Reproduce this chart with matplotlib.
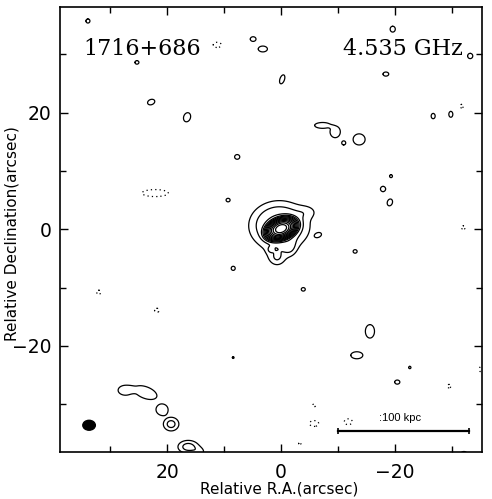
import numpy as np
import matplotlib
matplotlib.use("Agg")
from matplotlib import pyplot as plt
from matplotlib.patches import Ellipse

# ---- data (arcsec, RA offset positive to the east/left) ----
# single-contour positive blobs: centre, half-size of contour, position angle
blob_x  = [33.9, 25.3, 22.8, 16.5, 7.7, 9.3, 4.9, 3.2, -0.2, -19.6, -18.4, -33.2,
           -26.7, -29.8, -7.3, -9.5, -11.0, -13.7, -19.3, -17.9, -19.1, -6.5,
           -13.0, 8.4, -3.9, -15.6, -13.3, -22.6, -20.4, 8.4, 27.3, 23.8, 20.9, -32.1]
blob_y  = [35.7, 28.6, 21.8, 19.2, 12.4, 5.0, 32.6, 30.9, 25.7, 34.3, 26.6, 29.7,
           19.4, 19.7, 17.8, 16.7, 14.8, 15.4, 9.1, 6.9, 4.6, -1.0,
           -3.8, -6.7, -10.3, -17.5, -21.6, -23.7, -26.2, -22.0, -27.6, -28.0, -30.9, -38.6]
blob_rx = [0.35, 0.35, 0.65, 0.6, 0.45, 0.35, 0.5, 0.8, 0.4, 0.45, 0.5, 0.45,
           0.35, 0.35, 1.4, 0.9, 0.35, 1.05, 0.25, 0.45, 0.45, 0.55,
           0.35, 0.35, 0.35, 0.8, 1.05, 0.2, 0.45, 0.15, 1.3, 2.1, 1.05, 0.6]
blob_ry = [0.35, 0.3, 0.45, 0.8, 0.4, 0.3, 0.4, 0.5, 0.8, 0.5, 0.35, 0.45,
           0.45, 0.5, 0.5, 1.0, 0.35, 0.95, 0.25, 0.45, 0.6, 0.35,
           0.3, 0.35, 0.3, 1.15, 0.6, 0.2, 0.35, 0.15, 0.85, 1.0, 0.95, 0.5]
blob_pa = [0, 0, -20, 20, 0, 0, 0, 0, 20, 0, 0, 0,
           0, 0, 0, 0, 0, 0, 0, 0, 20, -20,
           0, 0, 0, 0, 0, 0, 0, 0, 0, 20, 0, 0]

# negative (dotted) blobs
neg_x  = [11.2, 22.1, -31.7, -32.0, 32.0, 21.8, -29.5, -35.2, -5.8, -5.8, -11.8, -3.3]
neg_y  = [31.6, 6.2, 21.1, 0.3, -10.8, -13.9, -26.9, -24.0, -30.2, -33.3, -33.0, -36.7]
neg_rx = [0.7, 2.3, 0.3, 0.35, 0.35, 0.4, 0.3, 0.4, 0.25, 0.8, 0.7, 0.2]
neg_ry = [0.45, 0.6, 0.3, 0.3, 0.35, 0.35, 0.3, 0.5, 0.25, 0.5, 0.5, 0.2]

# brighter components: core, extended emission and the southern knots
comp_x   = [0.0, 0.3, 0.8, 0.7, -1.5, -4.6, 1.9, 19.3, 16.3, 14.3]
comp_y   = [0.1, 0.6, -4.5, -5.0, -3.0, 3.0, -3.5, -33.4, -37.3, -38.2]
comp_amp = [8000, 5.0, 0.7, 1.2, 1.6, 0.9, 1.0, 2.52, 2.6, 1.2]
comp_sx  = [0.86, 3.0, 1.6, 0.9, 0.8, 1.3, 0.4, 1.0, 1.3, 0.8]
comp_sy  = [0.55, 2.4, 1.2, 0.9, 1.0, 0.8, 0.4, 0.86, 0.8, 0.6]
comp_pa  = [-20, 0, 0, 0, 0, 0, 0, 0, 0, 0]

levels = [-1, 1, 2, 4, 8, 16, 32, 64, 128, 256, 512, 1024, 2048, 4096]

beam_x, beam_y, beam_w, beam_h = 33.7, -33.6, 2.2, 1.7
bar_x0, bar_x1, bar_y = -10.0, -33.0, -34.5

# ---- build the map ----
gx = np.arange(-37, 41, 0.05)
gy = np.arange(-41, 41, 0.05)
X, Y = np.meshgrid(gx, gy)
Z = np.zeros_like(X)


def rho2(x0, y0, sx, sy, pa):
    t = np.deg2rad(pa)
    dx, dy = X - x0, Y - y0
    u = dx * np.cos(t) + dy * np.sin(t)
    v = -dx * np.sin(t) + dy * np.cos(t)
    return (u / sx) ** 2 + (v / sy) ** 2


# compact blobs: flat-topped profile whose level-1 contour sits at (rx, ry)
a_blob = 1.5
for i in range(len(blob_x)):
    r2 = rho2(blob_x[i], blob_y[i], blob_rx[i], blob_ry[i], blob_pa[i])
    Z += a_blob ** (1 - np.minimum(r2, 20) ** 2)
for i in range(len(neg_x)):
    r2 = rho2(neg_x[i], neg_y[i], neg_rx[i], neg_ry[i], 0)
    Z -= a_blob ** (1 - np.minimum(r2, 20) ** 2)
for i in range(len(comp_x)):
    r2 = rho2(comp_x[i], comp_y[i], comp_sx[i], comp_sy[i], comp_pa[i])
    Z += comp_amp[i] * np.exp(-0.5 * r2)

# ---- plot ----
fig = plt.figure(figsize=(4.92, 4.99), dpi=100)
ax = fig.add_axes([0.122, 0.094, 0.858, 0.892])

styles = [(0, (1, 2.5)) if l < 0 else 'solid' for l in levels]
ax.contour(X, Y, Z, levels=levels, colors='k', linewidths=0.9, linestyles=styles)

ax.add_patch(Ellipse((beam_x, beam_y), beam_w, beam_h, color='k'))
ax.plot([bar_x0, bar_x1], [bar_y, bar_y], color='k', lw=1.6,
        marker='|', markersize=4, markeredgewidth=1.2)
ax.text(-17.2, -32.9, ':100 kpc', fontsize=8, family='Liberation Sans')

ax.text(0.055, 0.892, '1716+686', transform=ax.transAxes, fontsize=16,
        family='DejaVu Serif')
ax.text(0.955, 0.892, '4.535 GHz', transform=ax.transAxes, fontsize=16,
        family='DejaVu Serif', ha='right')

ax.set_xlim(38.8, -35.3)
ax.set_ylim(-38.2, 38.1)
ax.set_xticks([20, 0, -20])
ax.set_yticks([20, 0, -20])
ax.set_xticks([30, 10, -10, -30], minor=True)
ax.set_yticks([30, 10, -10, -30], minor=True)
ax.tick_params(which='both', direction='in', top=True, right=True, width=1)
ax.tick_params(which='major', length=6, labelsize=13.5)
ax.tick_params(which='minor', length=4.5)
ax.tick_params(axis='x', pad=8)
ax.tick_params(axis='y', pad=6)
for s in ax.spines.values():
    s.set_linewidth(1.2)

ax.set_xlabel('Relative R.A.(arcsec)', fontsize=11)
ax.set_ylabel('Relative Declination(arcsec)', fontsize=11)
ax.xaxis.set_label_coords(0.52, -0.066)
ax.yaxis.set_label_coords(-0.095, 0.49)

fig.savefig('out.png', dpi=100)
